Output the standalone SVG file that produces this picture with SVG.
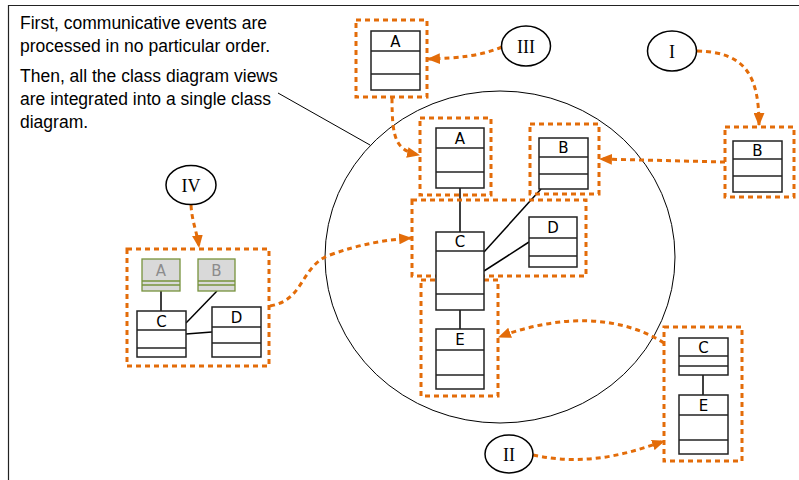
<svg xmlns="http://www.w3.org/2000/svg" width="799" height="480" viewBox="0 0 799 480">
<defs>
<style>
.frame{fill:none;stroke:#222;stroke-width:1.2}
.note{font-family:"Liberation Sans",Arial,sans-serif;font-size:17.5px;fill:#000}
.cls rect,.cls line{fill:#fff;stroke:#222;stroke-width:1.5}
.cls line{fill:none}
.cls text{font-family:"DejaVu Sans",Verdana,sans-serif;font-size:15px;fill:#000;text-anchor:middle}
.ghost rect{fill:#d9d9d9;stroke:#77933c;stroke-width:1.3}
.ghost line{stroke:#77933c;stroke-width:1.3}
.ghost text{fill:#8c8c8c}
.grp{fill:none;stroke:#e36c09;stroke-width:3;stroke-dasharray:5 4}
.assoc{fill:none;stroke:#000;stroke-width:1.5}
.flow{fill:none;stroke:#e36c09;stroke-width:3;stroke-dasharray:5 4;marker-end:url(#ah)}
.step ellipse{fill:#fff;stroke:#000;stroke-width:1.5}
.step text{font-family:"Liberation Serif","DejaVu Serif",serif;font-size:18px;text-anchor:middle;fill:#000}
.thin{fill:none;stroke:#000;stroke-width:1}
</style>
<marker id="ah" viewBox="0 0 12 10" refX="11" refY="5" markerWidth="13" markerHeight="11" markerUnits="userSpaceOnUse" orient="auto">
<path d="M0,0 L12,5 L0,10 Z" fill="#e36c09"/>
</marker>
</defs>
<rect width="799" height="480" fill="#fff"/>
<path class="frame" d="M8.5,481 V5.5 H800"/>
<g id="note">
<text class="note" x="20" y="29">First, communicative events are</text>
<text class="note" x="20" y="52">processed in no particular order.</text>
<text class="note" x="20" y="82">Then, all the class diagram views</text>
<text class="note" x="20" y="105">are integrated into a single class</text>
<text class="note" x="20" y="128">diagram.</text>
</g>
<g id="integrated-view">
<ellipse class="thin" cx="500" cy="257" rx="175" ry="166"/>
<line class="thin" x1="278" y1="93" x2="370" y2="145"/>
</g>
<g id="connectors">
<line class="assoc" x1="460" y1="188" x2="460" y2="232"/>
<line class="assoc" x1="541" y1="189" x2="484" y2="252"/>
<line class="assoc" x1="484" y1="271" x2="529" y2="242"/>
<line class="assoc" x1="460" y1="310" x2="460" y2="329"/>
<line class="assoc" x1="703" y1="375" x2="703" y2="395"/>
<line class="assoc" x1="161" y1="291" x2="161" y2="311"/>
<line class="assoc" x1="217" y1="291" x2="186" y2="323"/>
<line class="assoc" x1="186" y1="334" x2="212" y2="332"/>
<path class="flow" d="M502,47 C480,56 460,58 428,59"/>
<path class="flow" d="M392,98 C392,140 396,150 419,155"/>
<path class="flow" d="M697,51 C745,52 759,75 759,125"/>
<path class="flow" d="M725,162 L600,159"/>
<path class="flow" d="M191,205 C192,222 197,232 199,247"/>
<path class="flow" d="M270,306 C305,300 300,266 330,255 C360,244 385,240 411,238"/>
<path class="flow" d="M664,343 C620,315 560,314 499,337"/>
<path class="flow" d="M533,455 C585,466 625,455 664,441"/>
</g>
<g id="groups">
<rect class="grp" x="356" y="20" width="71" height="77"/>
<rect class="grp" x="420" y="118" width="71" height="77"/>
<rect class="grp" x="530" y="124" width="69" height="70"/>
<rect class="grp" x="412" y="200" width="174" height="76"/>
<rect class="grp" x="421" y="280" width="77" height="116"/>
<rect class="grp" x="725" y="127" width="69" height="70"/>
<rect class="grp" x="664" y="327" width="78" height="134"/>
<rect class="grp" x="127" y="249" width="142" height="117"/>
</g>
<g id="step-I" class="step"><ellipse cx="672" cy="51" rx="24.5" ry="20"/><text x="672" y="57.5">I</text></g>
<g id="step-II" class="step"><ellipse cx="509" cy="454" rx="24" ry="19"/><text x="509" y="460.5">II</text></g>
<g id="step-III" class="step"><ellipse cx="526" cy="46" rx="24.5" ry="20"/><text x="526" y="52.5">III</text></g>
<g id="step-IV" class="step"><ellipse cx="191" cy="185" rx="25" ry="19.5"/><text x="191" y="191.5">IV</text></g>
<g id="class-A-top" class="cls"><rect x="371" y="31" width="49" height="59"/><line x1="371" y1="51" x2="420" y2="51"/><line x1="371" y1="74" x2="420" y2="74"/><text x="395.5" y="47">A</text></g>
<g id="class-A" class="cls"><rect x="436" y="128" width="48" height="60"/><line x1="436" y1="148" x2="484" y2="148"/><line x1="436" y1="172" x2="484" y2="172"/><text x="460" y="144">A</text></g>
<g id="class-B" class="cls"><rect x="539" y="138" width="49" height="51"/><line x1="539" y1="157" x2="588" y2="157"/><line x1="539" y1="174" x2="588" y2="174"/><text x="563.5" y="153">B</text></g>
<g id="class-C" class="cls"><rect x="436" y="232" width="48" height="78"/><line x1="436" y1="251" x2="484" y2="251"/><line x1="436" y1="294" x2="484" y2="294"/><text x="460" y="247">C</text></g>
<g id="class-D" class="cls"><rect x="529" y="217" width="48" height="50"/><line x1="529" y1="238" x2="577" y2="238"/><line x1="529" y1="256" x2="577" y2="256"/><text x="553" y="233">D</text></g>
<g id="class-E" class="cls"><rect x="436" y="329" width="48" height="60"/><line x1="436" y1="350" x2="484" y2="350"/><line x1="436" y1="375" x2="484" y2="375"/><text x="460" y="345">E</text></g>
<g id="class-B-right" class="cls"><rect x="733" y="141" width="49" height="51"/><line x1="733" y1="159" x2="782" y2="159"/><line x1="733" y1="176" x2="782" y2="176"/><text x="757.5" y="156">B</text></g>
<g id="class-C-right" class="cls"><rect x="679" y="338" width="49" height="37"/><line x1="679" y1="356" x2="728" y2="356"/><line x1="679" y1="366" x2="728" y2="366"/><text x="703.5" y="353">C</text></g>
<g id="class-E-right" class="cls"><rect x="679" y="395" width="49" height="59"/><line x1="679" y1="415" x2="728" y2="415"/><line x1="679" y1="440" x2="728" y2="440"/><text x="703.5" y="411">E</text></g>
<g id="class-A-ghost" class="cls ghost"><rect x="142" y="259" width="38" height="32"/><line x1="142" y1="281" x2="180" y2="281"/><line x1="142" y1="285" x2="180" y2="285"/><text x="161" y="276">A</text></g>
<g id="class-B-ghost" class="cls ghost"><rect x="198" y="259" width="37" height="32"/><line x1="198" y1="281" x2="235" y2="281"/><line x1="198" y1="285" x2="235" y2="285"/><text x="216.5" y="276">B</text></g>
<g id="class-C-left" class="cls"><rect x="137" y="311" width="49" height="46"/><line x1="137" y1="330" x2="186" y2="330"/><line x1="137" y1="348" x2="186" y2="348"/><text x="161.5" y="327">C</text></g>
<g id="class-D-left" class="cls"><rect x="212" y="307" width="49" height="50"/><line x1="212" y1="327" x2="261" y2="327"/><line x1="212" y1="343" x2="261" y2="343"/><text x="236.5" y="323">D</text></g>
</svg>
